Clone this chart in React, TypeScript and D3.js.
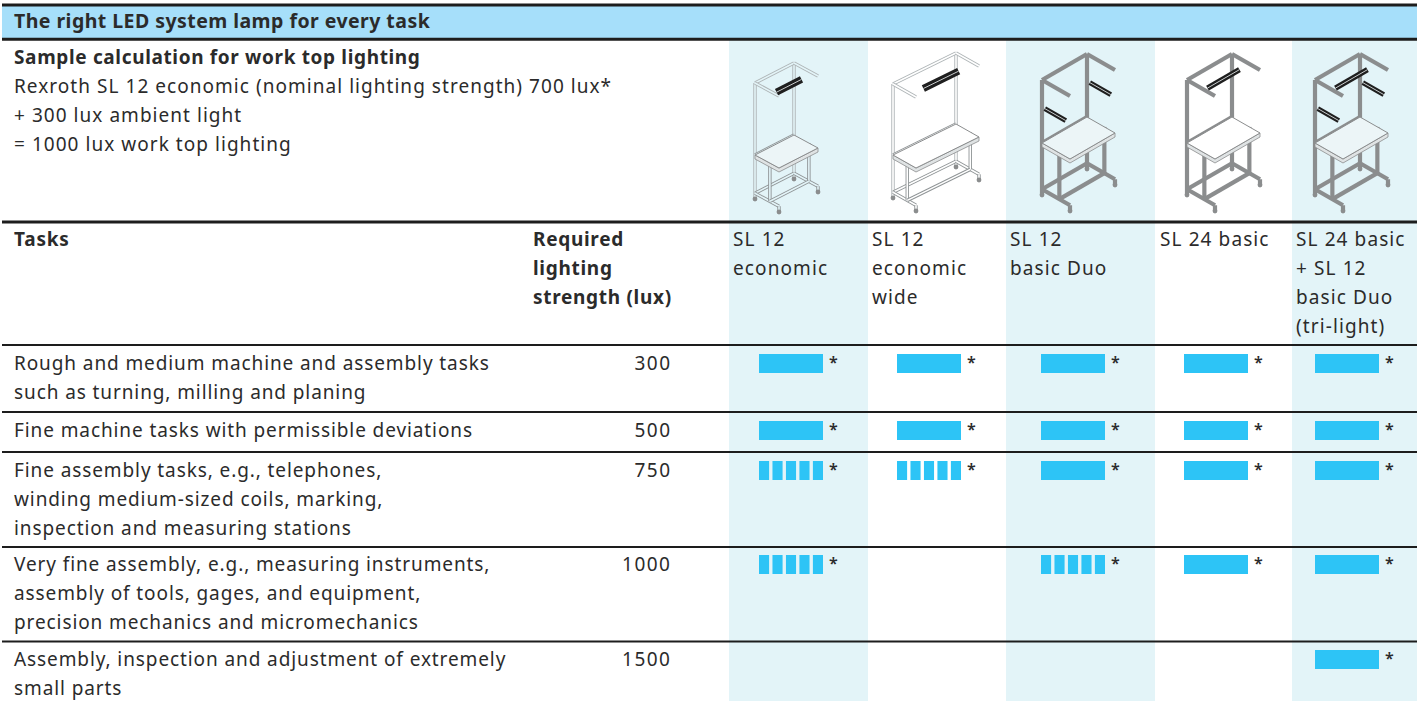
import React from "react";
import * as d3 from "d3";

const W = 1417;
const H = 701;
const FONT = "'Noto Sans', sans-serif";

const title = "The right LED system lamp for every task";
const sampleHead = "Sample calculation for work top lighting";
const sampleLines = [
  "Rexroth SL 12 economic (nominal lighting strength) 700 lux*",
  "+ 300 lux ambient light",
  "= 1000 lux work top lighting",
];
const lampNames = [
  ["SL 12", "economic"],
  ["SL 12", "economic", "wide"],
  ["SL 12", "basic Duo"],
  ["SL 24 basic"],
  ["SL 24 basic", "+ SL 12", "basic Duo", "(tri-light)"],
];
const requiredHead = ["Required", "lighting", "strength (lux)"];
const tasks = [
  ["Rough and medium machine and assembly tasks", "such as turning, milling and planing"],
  ["Fine machine tasks with permissible deviations"],
  ["Fine assembly tasks, e.g., telephones,", "winding medium-sized coils, marking,", "inspection and measuring stations"],
  ["Very fine assembly, e.g., measuring instruments,", "assembly of tools, gages, and equipment,", "precision mechanics and micromechanics"],
  ["Assembly, inspection and adjustment of extremely", "small parts"],
];
const lux = [300, 500, 750, 1000, 1500];
// f = solid bar, d = segmented bar, n = not suitable
const ratings = [
  ["f", "f", "f", "f", "f"],
  ["f", "f", "f", "f", "f"],
  ["d", "d", "f", "f", "f"],
  ["d", "n", "d", "f", "f"],
  ["n", "n", "n", "n", "f"],
];

// layout
const colLeft = [729, 868, 1006, 1155, 1292, W];
const colText = [733, 872, 1010, 1160, 1296];
const barLeft = [759, 897, 1041, 1184, 1315];
const rowLines = [345, 412, 452, 547, 641.5];
const rowBase = [370, 437, 477, 571, 666];
const LH = 29;

// workstation drawings, in model units u (width), v (depth), h (height)
type P = [number, number, number];
const stations = [
  { x: 755, y: 199, ux: 39, uy: -20, vx: 24, vy: 13, bench: 44, top: 116, wire: true, top_lamp: [0.06, 0.7, 0.8], side: false },
  { x: 893, y: 198, ux: 63, uy: -31, vx: 23, vy: 13, bench: 43, top: 114, wire: true, top_lamp: [0.19, 0.75, 0.8], side: false },
  { x: 1042, y: 195, ux: 45, uy: -26, vx: 28, vy: 16, bench: 52, top: 115, wire: false, top_lamp: null, side: true },
  { x: 1187, y: 195, ux: 45, uy: -26, vx: 28, vy: 16, bench: 52, top: 115, wire: false, top_lamp: [0.07, 0.78, 0.62], side: false },
  { x: 1315, y: 195, ux: 45, uy: -26, vx: 28, vy: 16, bench: 52, top: 115, wire: false, top_lamp: [0.07, 0.78, 0.62], side: true },
];

function Station({ s, bg }: { s: any; bg: string }) {
  const T = 1;
  const R = 0.05; // height of the floor rails
  const project = (p: P): [number, number] => [
    s.x + p[0] * s.ux + p[1] * s.vx,
    s.y + p[0] * s.uy + p[1] * s.vy - p[2] * s.top,
  ];
  const path = d3.line<P>().x((p) => project(p)[0]).y((p) => project(p)[1]);
  const b = s.bench / s.top;
  const back: [P, P][] = [
    [[0, 0, 0], [0, 0, T]],
    [[1, 0, 0], [1, 0, T]],
    [[0, 0, T], [1, 0, T]],
    [[0, 0, b], [1, 0, b]],
    [[1, 0, T], [1, 1, T]],
    [[0, 0, T], [0, 1, T]],
    [[0, 0, R], [1, 0, R]],
    [[1, 0, R], [1, 1, R]],
    [[0, 0, R], [0, 1, R]],
  ];
  const front: [P, P][] = [
    [[0, 0.62, R], [0, 0.62, b]],
    [[1, 0.62, R], [1, 0.62, b]],
    [[0, 0.62, R], [1, 0.62, R]],
    [[0, 1, R], [0, 1, 0]],
    [[1, 1, R], [1, 1, 0]],
  ];
  const feet: P[] = [[0, 0, 0], [0, 1, 0], [1, 1, 0], [1, 0, 0]];
  const drawBeam = (seg: [P, P], i: number) =>
    s.wire ? (
      <g key={i} fill="none">
        <path d={path(seg)!} stroke={seg[0][2] > b || seg[1][2] > b ? "#aeb4b6" : "#8f9496"} strokeWidth={3.4} />
        <path d={path(seg)!} stroke={bg} strokeWidth={1.6} />
      </g>
    ) : (
      <path key={i} d={path(seg)!} fill="none" stroke="#8b8d8e" strokeWidth={4.2} />
    );
  const benchTop: P[] = [[0, 0, b], [1, 0, b], [1, 1, b], [0, 1, b]];
  const benchEdge: P[] = [[0, 0, b], [0, 1, b], [1, 1, b], [1, 1, b - 4 / s.top], [0, 1, b - 4 / s.top], [0, 0, b - 4 / s.top]];
  const lamp = (seg: [P, P], key: string, w: number) => (
    <g key={key} fill="none">
      <path d={path(seg)!} stroke="#1f1f1f" strokeWidth={w} />
      <path d={path(seg)!} stroke="#c9cdce" strokeWidth={1} />
    </g>
  );
  const lampDrop = 27 / s.top;
  return (
    <g>
      {back.map(drawBeam)}
      {front.map((seg, i) => drawBeam(seg, i + 20))}
      {feet.map((p, i) => {
        const [cx, cy] = project(p);
        return <circle key={i} cx={cx} cy={cy} r={2.4} fill="#8b8d8e" />;
      })}
      <path d={path(benchEdge)! + "Z"} fill="#dfe3e4" stroke="#8b8d8e" strokeWidth={0.8} />
      <path d={path(benchTop)! + "Z"} fill={bg === "#fff" ? "#fff" : "#ecf5f7"} stroke="#8b8d8e" strokeWidth={1} />
      {s.top_lamp && lamp([[s.top_lamp[0], s.top_lamp[2], T], [s.top_lamp[1], s.top_lamp[2], T]], "top", s.wire ? 7 : 5.5)}
      {s.side && lamp([[1, 0.1, T - lampDrop], [1, 0.85, T - lampDrop]], "r", 5)}
      {s.side && lamp([[0, 0.1, T - lampDrop], [0, 0.85, T - lampDrop]], "l", 5)}
    </g>
  );
}

function Rating({ kind, left, y }: { kind: string; left: number; y: number }) {
  const x = d3.scaleLinear().domain([0, 1]).range([left, left + 64]);
  const seg = d3.scaleBand<number>().domain(d3.range(5)).range([x(0), x(1)]).paddingInner(0.25);
  if (kind === "n") return null;
  return (
    <g>
      {kind === "f" ? (
        <rect x={x(0)} y={y - 9.5} width={x(1) - x(0)} height={19} fill="#2dc4f6" />
      ) : (
        seg.domain().map((i) => (
          <rect key={i} x={seg(i)} y={y - 9.5} width={seg.bandwidth()} height={19} fill="#2dc4f6" />
        ))
      )}
      <text x={x(1) + 6} y={y + 4.2} fontSize={16} fontWeight={600}>*</text>
    </g>
  );
}

export default function App() {
  return (
    <svg
      width={W}
      height={H}
      style={{ position: "absolute", left: 0, top: 0, display: "block", background: "#fff" }}
      fontFamily={FONT}
      fill="#2b2b2b"
      fontSize={19}
      letterSpacing={0.9}
    >
      <rect x={2} y={4} width={W - 2} height={35} fill="#a6dffa" />
      {[0, 2, 4].map((i) => (
        <rect key={i} x={colLeft[i]} y={40} width={colLeft[i + 1] - colLeft[i]} height={H - 40} fill="#e3f4f8" />
      ))}
      {[5, 39.2, 222].map((y) => (
        <line key={y} x1={2} x2={W} y1={y} y2={y} stroke="#1d1d1d" strokeWidth={3} />
      ))}
      {rowLines.map((y) => (
        <line key={y} x1={2} x2={W} y1={y} y2={y} stroke="#1d1d1d" strokeWidth={2} />
      ))}

      <text x={14} y={28} fontSize={19.5} fontWeight={700} letterSpacing={0.45}>{title}</text>
      <text x={14} y={64} fontWeight={700} letterSpacing={0.65}>{sampleHead}</text>
      {sampleLines.map((t, i) => (
        <text key={i} x={14} y={93 + i * LH} letterSpacing={1.04}>{t}</text>
      ))}

      {stations.map((s, i) => (
        <Station key={i} s={s} bg={i % 2 === 0 ? "#e3f4f8" : "#fff"} />
      ))}

      <text x={14} y={246} fontWeight={700} letterSpacing={0.8}>Tasks</text>
      {requiredHead.map((t, i) => (
        <text key={i} x={533} y={246 + i * LH} fontWeight={700} letterSpacing={0.7}>{t}</text>
      ))}
      {lampNames.map((lines, c) =>
        lines.map((t, i) => (
          <text key={c + "-" + i} x={colText[c]} y={246 + i * LH} letterSpacing={1.1}>{t}</text>
        ))
      )}

      {tasks.map((lines, r) => (
        <g key={r}>
          {lines.map((t, i) => (
            <text key={i} x={14} y={rowBase[r] + i * LH}>{t}</text>
          ))}
          <text x={671.5} y={rowBase[r]} textAnchor="end" letterSpacing={1.5}>{lux[r]}</text>
          {ratings[r].map((k, c) => (
            <Rating key={c} kind={k} left={barLeft[c]} y={rowBase[r] - 6.5} />
          ))}
        </g>
      ))}
    </svg>
  );
}
